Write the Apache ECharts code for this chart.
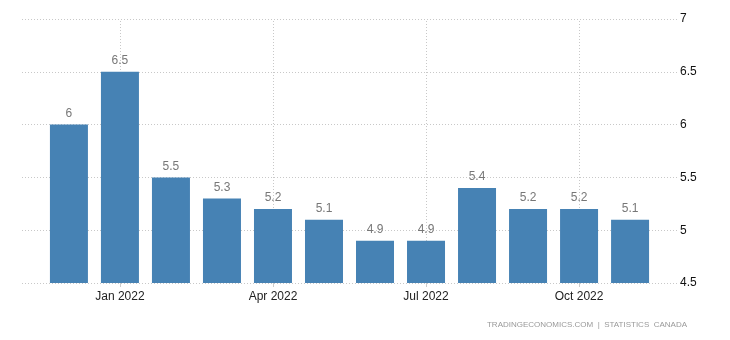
<!DOCTYPE html>
<html>
<head>
<meta charset="utf-8">
<script src="https://cdn.jsdelivr.net/npm/echarts@6/dist/echarts.min.js"></script>
<style>html,body{margin:0;padding:0;background:#fff}#c{width:730px;height:340px}</style>
</head>
<body>
<div id="c"></div>
<script>
var months = ['Dec 2021','Jan 2022','Feb 2022','Mar 2022','Apr 2022','May 2022','Jun 2022','Jul 2022','Aug 2022','Sep 2022','Oct 2022','Nov 2022'];
var values = [6, 6.5, 5.5, 5.3, 5.2, 5.1, 4.9, 4.9, 5.4, 5.2, 5.2, 5.1];
var labelIdx = [1, 4, 7, 10];
var yTicks = [4.5, 5, 5.5, 6, 6.5, 7];

var chart = echarts.init(document.getElementById('c'), null, {renderer: 'canvas'});
var font = 'Liberation Sans, Arial, sans-serif';
chart.setOption({
  animation: false,
  grid: {left: 22, right: 53, top: 19, bottom: 57, containLabel: false},
  xAxis: {
    type: 'value', min: -0.92, max: 11.92,
    axisLine: {show: false},
    splitLine: {show: false},
    axisTick: {show: true, customValues: labelIdx, length: 4, lineStyle: {color: '#ccc'}},
    axisLabel: {customValues: labelIdx, color: '#222', fontSize: 12, fontFamily: font, margin: 8,
      formatter: function (v) { return months[Math.round(v)]; }}
  },
  yAxis: {
    type: 'value', position: 'right', min: 4.5, max: 7, interval: 0.5,
    axisLine: {show: false}, axisTick: {show: false},
    splitLine: {show: true, lineStyle: {type: [1, 2], color: '#c8c8c8'}},
    axisLabel: {color: '#111', fontSize: 12, fontFamily: font, margin: 3, padding: [3, 0, 0, 0],
      formatter: function (v) { return String(Math.round(v * 10) / 10); }}
  },
  series: [{
    type: 'bar',
    barWidth: 38,
    data: values.map(function (v, i) { return [i, v]; }),
    itemStyle: {color: '#4682B4'},
    label: {show: true, position: 'top', distance: 5, color: '#777', fontSize: 12, fontFamily: font,
      formatter: function (p) { return String(p.value[1]); }},
    markLine: {
      silent: true, symbol: 'none', label: {show: false},
      lineStyle: {type: [1, 2], color: '#c8c8c8', width: 1},
      data: labelIdx.map(function (i) { return {xAxis: i}; }),
      z: 0
    },
    z: 2
  }],
  graphic: [{
    type: 'text', right: 43, top: 321,
    style: {text: 'TRADINGECONOMICS.COM  |  STATISTICS  CANADA', fill: '#999', fontSize: 8, fontFamily: font}
  }]
});
</script>
</body>
</html>
